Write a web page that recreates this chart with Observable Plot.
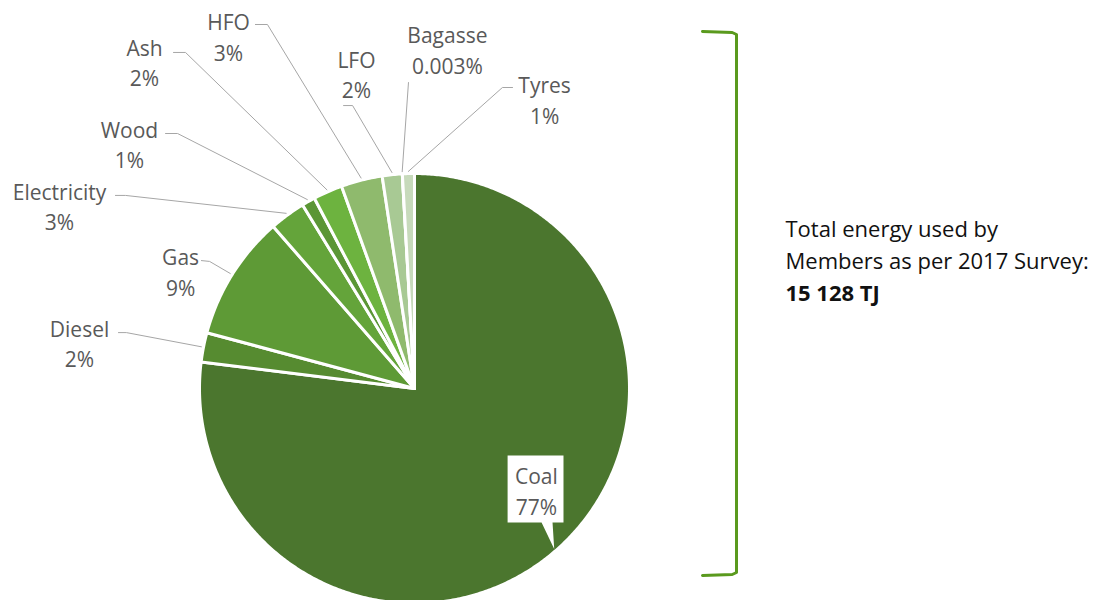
<!DOCTYPE html>
<html>
<head>
<meta charset="utf-8">
<script src="https://cdn.jsdelivr.net/npm/d3@7"></script>
<script src="https://cdn.jsdelivr.net/npm/@observablehq/plot@0.6"></script>
<style>
  html, body { margin: 0; padding: 0; background: #ffffff; }
  #chart svg { display: block; }
</style>
</head>
<body>
<div id="chart"></div>
<script>
// ---- Data (clockwise from 12 o'clock) ----
const names = ["Coal", "Diesel", "Gas", "Electricity", "Wood", "Ash", "HFO", "LFO", "Bagasse", "Tyres"];
const values = [76.9, 2.2, 9.4, 2.7, 1.0, 2.2, 3.1, 1.5, 0.003, 0.9];
const pctLabels = ["77%", "2%", "9%", "3%", "1%", "2%", "3%", "2%", "0.003%", "1%"];
const colors = ["#4b762e", "#568b30", "#5e9a36", "#64a43a", "#5b9635", "#6db33f", "#8fba6d", "#a8c994", "#bcd3ad", "#c7dabb"];
const noteLines = ["Total energy used by", "Members as per 2017 Survey:"];
const noteTotal = "15 128 TJ";

// ---- Layout (pie radius = 1 unit, centre at 0,0) ----
const R_PX = 215, CX = 414, CY = 388, W = 1115, H = 600;
// label block centres and leader start/elbow points, in pie-radius units
const labelLayout = {
  Diesel:      {tx: -1.558, ty: 0.214, lead: [[-1.377, 0.260], [-1.340, 0.260]]},
  Gas:         {tx: -1.088, ty: 0.547, lead: [[-0.991, 0.595], [-0.953, 0.591]]},
  Electricity: {tx: -1.651, ty: 0.853, lead: [[-1.391, 0.898], [-1.344, 0.898]]},
  Wood:        {tx: -1.326, ty: 1.142, lead: [[-1.158, 1.186], [-1.102, 1.186]]},
  Ash:         {tx: -1.256, ty: 1.523, lead: [[-1.121, 1.563], [-1.065, 1.563]]},
  HFO:         {tx: -0.865, ty: 1.640, lead: [[-0.740, 1.693], [-0.684, 1.693]]},
  LFO:         {tx: -0.270, ty: 1.467, lead: [[-0.330, 1.316], [-0.288, 1.316]]},
  Bagasse:     {tx:  0.153, ty: 1.581, lead: [[-0.028, 1.423]]},
  Tyres:       {tx:  0.605, ty: 1.347, lead: [[ 0.456, 1.400], [ 0.409, 1.400]]},
  Coal:        {tx:  0.567, ty: -0.470}
};
// callout box for Coal (pie-radius units)
const callout = {x0: 0.433, x1: 0.693, y0: -0.623, y1: -0.312, b0: 0.591, b1: 0.642};

// ---- Geometry from data ----
const arcs = d3.pie().sort(null).value(d => d).startAngle(0).endAngle(2 * Math.PI)(values);

const slicePts = [];
arcs.forEach((p, i) => {
  const span = p.endAngle - p.startAngle;
  const n = Math.max(2, Math.ceil(span / (Math.PI / 360)));
  slicePts.push({name: names[i], x: 0, y: 0, c: colors[i]});
  for (let k = 0; k <= n; k++) {
    const a = p.startAngle + span * k / n;
    slicePts.push({name: names[i], x: Math.sin(a), y: Math.cos(a), c: colors[i]});
  }
});

const leaderPts = [];
const labels = [];
arcs.forEach((p, i) => {
  const L = labelLayout[names[i]];
  labels.push({x: L.tx, y: L.ty, text: names[i] + "\n" + pctLabels[i]});
  if (!L.lead) return;
  const mid = (p.startAngle + p.endAngle) / 2;
  L.lead.forEach(([x, y]) => leaderPts.push({name: names[i], x, y}));
  leaderPts.push({name: names[i], x: 1.01 * Math.sin(mid), y: 1.01 * Math.cos(mid)});
});

// Coal callout polygon: box plus pointer to the slice rim
const coalTipAngle = arcs[0].startAngle + (arcs[0].endAngle - arcs[0].startAngle) * 0.5015;
const tip = [Math.sin(coalTipAngle) * 0.99, Math.cos(coalTipAngle) * 0.99];
const calloutPts = [
  [callout.x0, callout.y1], [callout.x1, callout.y1], [callout.x1, callout.y0],
  [callout.b1, callout.y0], tip, [callout.b0, callout.y0], [callout.x0, callout.y0]
].map(([x, y]) => ({x, y}));

// bracket and note (pie-radius units)
const bx0 = (702 - CX) / R_PX, bx1 = (736 - CX) / R_PX;
const bracketPts = [
  {x: bx0, y: (CY - 31) / R_PX}, {x: bx1 - 0.02, y: (CY - 32) / R_PX}, {x: bx1, y: (CY - 34) / R_PX},
  {x: bx1, y: (CY - 572) / R_PX}, {x: bx1 - 0.02, y: (CY - 574) / R_PX}, {x: bx0, y: (CY - 575) / R_PX}
];
const noteX = (785 - CX) / R_PX;
const noteData = noteLines.map((t, i) => ({x: noteX, y: (CY - (236 + 32 * i)) / R_PX, text: t}));
const totalData = [{x: noteX, y: (CY - 300) / R_PX, text: noteTotal}];

const labelFont = "'Segoe UI', 'Open Sans', 'Noto Sans', sans-serif";
const noteFont = "'Open Sans', 'Noto Sans', sans-serif";

const chart = Plot.plot({
  width: W,
  height: H,
  margin: 0,
  x: {domain: [-CX / R_PX, (W - CX) / R_PX], axis: null},
  y: {domain: [-(H - CY) / R_PX, CY / R_PX], axis: null},
  color: {type: "identity"},
  style: {background: "#ffffff"},
  marks: [
    Plot.line(slicePts, {x: "x", y: "y", z: "name", fill: "c", stroke: "#ffffff", strokeWidth: 3, strokeLinejoin: "round", curve: "linear-closed"}),
    Plot.line(leaderPts, {x: "x", y: "y", z: "name", stroke: "#a6a6a6", strokeWidth: 1}),
    Plot.line(calloutPts, {x: "x", y: "y", fill: "#ffffff", stroke: "none", curve: "linear-closed"}),
    Plot.text(labels, {x: "x", y: "y", text: "text", textAnchor: "middle", lineAnchor: "middle", lineHeight: 1.45, fontSize: 21, fill: "#595959", fontFamily: labelFont}),
    Plot.line(bracketPts, {x: "x", y: "y", stroke: "#5a9a1e", strokeWidth: 3, curve: "linear"}),
    Plot.text(noteData, {x: "x", y: "y", text: "text", textAnchor: "start", lineAnchor: "bottom", fontSize: 22, fill: "#111111", fontFamily: noteFont}),
    Plot.text(totalData, {x: "x", y: "y", text: "text", textAnchor: "start", lineAnchor: "bottom", fontSize: 22, fontWeight: "bold", fill: "#111111", fontFamily: noteFont})
  ]
});
document.getElementById("chart").appendChild(chart);
</script>
</body>
</html>
